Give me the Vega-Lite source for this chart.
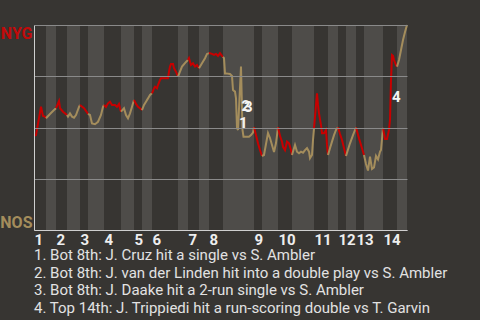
{
  "$schema": "https://vega.github.io/schema/vega-lite/v6.json",
  "width": 373,
  "height": 205,
  "autosize": {"type": "none"},
  "padding": {"left": 34, "top": 25, "right": 73, "bottom": 90},
  "background": "#373532",
  "config": {"view": {"stroke": null}, "font": "Roboto"},
  "title": {
    "text": [
      "1. Bot 8th: J. Cruz hit a single vs S. Ambler",
      "2. Bot 8th: J. van der Linden hit into a double play vs S. Ambler",
      "3. Bot 8th: J. Daake hit a 2-run single vs S. Ambler",
      "4. Top 14th: J. Trippiedi hit a run-scoring double vs T. Garvin"
    ],
    "orient": "bottom",
    "anchor": "start",
    "frame": "group",
    "align": "left",
    "baseline": "top",
    "font": "Roboto",
    "fontSize": 15,
    "fontWeight": "normal",
    "color": "#e2e2e2",
    "lineHeight": 17.7,
    "offset": 1
  },
  "datasets": {
    "bands": [
      {"x": 0, "x2": 12, "half": "top"}, {"x": 12, "x2": 22, "half": "bottom"},
      {"x": 22, "x2": 33, "half": "top"}, {"x": 33, "x2": 46, "half": "bottom"},
      {"x": 46, "x2": 54, "half": "top"}, {"x": 54, "x2": 70, "half": "bottom"},
      {"x": 70, "x2": 87, "half": "top"}, {"x": 87, "x2": 100, "half": "bottom"},
      {"x": 100, "x2": 108, "half": "top"}, {"x": 108, "x2": 118, "half": "bottom"},
      {"x": 118, "x2": 144, "half": "top"}, {"x": 144, "x2": 154, "half": "bottom"},
      {"x": 154, "x2": 165, "half": "top"}, {"x": 165, "x2": 175, "half": "bottom"},
      {"x": 175, "x2": 189, "half": "top"}, {"x": 189, "x2": 220, "half": "bottom"},
      {"x": 220, "x2": 228, "half": "top"}, {"x": 228, "x2": 244, "half": "bottom"},
      {"x": 244, "x2": 258, "half": "top"}, {"x": 258, "x2": 280, "half": "bottom"},
      {"x": 280, "x2": 294, "half": "top"}, {"x": 294, "x2": 304, "half": "bottom"},
      {"x": 304, "x2": 312, "half": "top"}, {"x": 312, "x2": 322, "half": "bottom"},
      {"x": 322, "x2": 330, "half": "top"}, {"x": 330, "x2": 349, "half": "bottom"},
      {"x": 349, "x2": 363, "half": "top"}, {"x": 363, "x2": 373, "half": "bottom"}
    ],
    "wp": [
      {"seg": "T1", "half": "top", "x": 0, "wp": 0.46},
      {"seg": "T1", "half": "top", "x": 2, "wp": 0.463},
      {"seg": "T1", "half": "top", "x": 7, "wp": 0.601},
      {"seg": "T1", "half": "top", "x": 9, "wp": 0.556},
      {"seg": "T1", "half": "top", "x": 11, "wp": 0.553},
      {"seg": "T1", "half": "top", "x": 12, "wp": 0.545},
      {"seg": "B1", "half": "bottom", "x": 12, "wp": 0.545},
      {"seg": "B1", "half": "bottom", "x": 16, "wp": 0.566},
      {"seg": "B1", "half": "bottom", "x": 20, "wp": 0.585},
      {"seg": "B1", "half": "bottom", "x": 22, "wp": 0.594},
      {"seg": "T2", "half": "top", "x": 22, "wp": 0.594},
      {"seg": "T2", "half": "top", "x": 25, "wp": 0.629},
      {"seg": "T2", "half": "top", "x": 26, "wp": 0.594},
      {"seg": "T2", "half": "top", "x": 29, "wp": 0.577},
      {"seg": "T2", "half": "top", "x": 33, "wp": 0.561},
      {"seg": "B2", "half": "bottom", "x": 33, "wp": 0.561},
      {"seg": "B2", "half": "bottom", "x": 34, "wp": 0.553},
      {"seg": "B2", "half": "bottom", "x": 36, "wp": 0.569},
      {"seg": "B2", "half": "bottom", "x": 38, "wp": 0.553},
      {"seg": "B2", "half": "bottom", "x": 40, "wp": 0.548},
      {"seg": "B2", "half": "bottom", "x": 42, "wp": 0.561},
      {"seg": "B2", "half": "bottom", "x": 45, "wp": 0.601},
      {"seg": "B2", "half": "bottom", "x": 46, "wp": 0.61},
      {"seg": "T3", "half": "top", "x": 46, "wp": 0.61},
      {"seg": "T3", "half": "top", "x": 50, "wp": 0.594},
      {"seg": "T3", "half": "top", "x": 53, "wp": 0.574},
      {"seg": "T3", "half": "top", "x": 54, "wp": 0.566},
      {"seg": "B3", "half": "bottom", "x": 54, "wp": 0.566},
      {"seg": "B3", "half": "bottom", "x": 56, "wp": 0.561},
      {"seg": "B3", "half": "bottom", "x": 58, "wp": 0.52},
      {"seg": "B3", "half": "bottom", "x": 61, "wp": 0.516},
      {"seg": "B3", "half": "bottom", "x": 64, "wp": 0.528},
      {"seg": "B3", "half": "bottom", "x": 67, "wp": 0.561},
      {"seg": "B3", "half": "bottom", "x": 69, "wp": 0.601},
      {"seg": "B3", "half": "bottom", "x": 70, "wp": 0.61},
      {"seg": "T4", "half": "top", "x": 70, "wp": 0.61},
      {"seg": "T4", "half": "top", "x": 72, "wp": 0.601},
      {"seg": "T4", "half": "top", "x": 74, "wp": 0.618},
      {"seg": "T4", "half": "top", "x": 76, "wp": 0.626},
      {"seg": "T4", "half": "top", "x": 78, "wp": 0.61},
      {"seg": "T4", "half": "top", "x": 81, "wp": 0.61},
      {"seg": "T4", "half": "top", "x": 83, "wp": 0.601},
      {"seg": "T4", "half": "top", "x": 85, "wp": 0.615},
      {"seg": "T4", "half": "top", "x": 86, "wp": 0.594},
      {"seg": "T4", "half": "top", "x": 87, "wp": 0.577},
      {"seg": "B4", "half": "bottom", "x": 87, "wp": 0.577},
      {"seg": "B4", "half": "bottom", "x": 90, "wp": 0.594},
      {"seg": "B4", "half": "bottom", "x": 92, "wp": 0.561},
      {"seg": "B4", "half": "bottom", "x": 94, "wp": 0.545},
      {"seg": "B4", "half": "bottom", "x": 96, "wp": 0.569},
      {"seg": "B4", "half": "bottom", "x": 98, "wp": 0.601},
      {"seg": "B4", "half": "bottom", "x": 100, "wp": 0.634},
      {"seg": "T5", "half": "top", "x": 100, "wp": 0.634},
      {"seg": "T5", "half": "top", "x": 102, "wp": 0.615},
      {"seg": "T5", "half": "top", "x": 104, "wp": 0.601},
      {"seg": "T5", "half": "top", "x": 106, "wp": 0.594},
      {"seg": "T5", "half": "top", "x": 108, "wp": 0.585},
      {"seg": "B5", "half": "bottom", "x": 108, "wp": 0.585},
      {"seg": "B5", "half": "bottom", "x": 110, "wp": 0.61},
      {"seg": "B5", "half": "bottom", "x": 112, "wp": 0.626},
      {"seg": "B5", "half": "bottom", "x": 114, "wp": 0.642},
      {"seg": "B5", "half": "bottom", "x": 116, "wp": 0.659},
      {"seg": "B5", "half": "bottom", "x": 118, "wp": 0.667},
      {"seg": "T6", "half": "top", "x": 118, "wp": 0.667},
      {"seg": "T6", "half": "top", "x": 120, "wp": 0.691},
      {"seg": "T6", "half": "top", "x": 121, "wp": 0.699},
      {"seg": "T6", "half": "top", "x": 123, "wp": 0.691},
      {"seg": "T6", "half": "top", "x": 124, "wp": 0.707},
      {"seg": "T6", "half": "top", "x": 126, "wp": 0.732},
      {"seg": "T6", "half": "top", "x": 127, "wp": 0.74},
      {"seg": "T6", "half": "top", "x": 131, "wp": 0.74},
      {"seg": "T6", "half": "top", "x": 134, "wp": 0.74},
      {"seg": "T6", "half": "top", "x": 135, "wp": 0.772},
      {"seg": "T6", "half": "top", "x": 136, "wp": 0.797},
      {"seg": "T6", "half": "top", "x": 137, "wp": 0.81},
      {"seg": "T6", "half": "top", "x": 139, "wp": 0.81},
      {"seg": "T6", "half": "top", "x": 140, "wp": 0.789},
      {"seg": "T6", "half": "top", "x": 142, "wp": 0.772},
      {"seg": "T6", "half": "top", "x": 144, "wp": 0.748},
      {"seg": "B6", "half": "bottom", "x": 144, "wp": 0.748},
      {"seg": "B6", "half": "bottom", "x": 148, "wp": 0.797},
      {"seg": "B6", "half": "bottom", "x": 152, "wp": 0.82},
      {"seg": "B6", "half": "bottom", "x": 154, "wp": 0.829},
      {"seg": "T7", "half": "top", "x": 154, "wp": 0.829},
      {"seg": "T7", "half": "top", "x": 155, "wp": 0.838},
      {"seg": "T7", "half": "top", "x": 157, "wp": 0.805},
      {"seg": "T7", "half": "top", "x": 159, "wp": 0.813},
      {"seg": "T7", "half": "top", "x": 161, "wp": 0.797},
      {"seg": "T7", "half": "top", "x": 163, "wp": 0.805},
      {"seg": "T7", "half": "top", "x": 165, "wp": 0.789},
      {"seg": "B7", "half": "bottom", "x": 165, "wp": 0.789},
      {"seg": "B7", "half": "bottom", "x": 168, "wp": 0.813},
      {"seg": "B7", "half": "bottom", "x": 171, "wp": 0.838},
      {"seg": "B7", "half": "bottom", "x": 173, "wp": 0.859},
      {"seg": "B7", "half": "bottom", "x": 175, "wp": 0.863},
      {"seg": "T8", "half": "top", "x": 175, "wp": 0.863},
      {"seg": "T8", "half": "top", "x": 178, "wp": 0.859},
      {"seg": "T8", "half": "top", "x": 180, "wp": 0.854},
      {"seg": "T8", "half": "top", "x": 182, "wp": 0.859},
      {"seg": "T8", "half": "top", "x": 184, "wp": 0.849},
      {"seg": "T8", "half": "top", "x": 186, "wp": 0.862},
      {"seg": "T8", "half": "top", "x": 188, "wp": 0.849},
      {"seg": "T8", "half": "top", "x": 189, "wp": 0.844},
      {"seg": "B8", "half": "bottom", "x": 189, "wp": 0.844},
      {"seg": "B8", "half": "bottom", "x": 190, "wp": 0.838},
      {"seg": "B8", "half": "bottom", "x": 191, "wp": 0.764},
      {"seg": "B8", "half": "bottom", "x": 192, "wp": 0.764},
      {"seg": "B8", "half": "bottom", "x": 196, "wp": 0.761},
      {"seg": "B8", "half": "bottom", "x": 198, "wp": 0.751},
      {"seg": "B8", "half": "bottom", "x": 199, "wp": 0.683},
      {"seg": "B8", "half": "bottom", "x": 201, "wp": 0.675},
      {"seg": "B8", "half": "bottom", "x": 202, "wp": 0.642},
      {"seg": "B8", "half": "bottom", "x": 203, "wp": 0.498},
      {"seg": "B8", "half": "bottom", "x": 204, "wp": 0.488},
      {"seg": "B8", "half": "bottom", "x": 207, "wp": 0.797},
      {"seg": "B8", "half": "bottom", "x": 208.5, "wp": 0.488},
      {"seg": "B8", "half": "bottom", "x": 209.5, "wp": 0.455},
      {"seg": "B8", "half": "bottom", "x": 215, "wp": 0.455},
      {"seg": "B8", "half": "bottom", "x": 217, "wp": 0.463},
      {"seg": "B8", "half": "bottom", "x": 219, "wp": 0.475},
      {"seg": "B8", "half": "bottom", "x": 220, "wp": 0.501},
      {"seg": "T9", "half": "top", "x": 220, "wp": 0.501},
      {"seg": "T9", "half": "top", "x": 222, "wp": 0.463},
      {"seg": "T9", "half": "top", "x": 224, "wp": 0.423},
      {"seg": "T9", "half": "top", "x": 226, "wp": 0.39},
      {"seg": "T9", "half": "top", "x": 228, "wp": 0.361},
      {"seg": "B9", "half": "bottom", "x": 228, "wp": 0.361},
      {"seg": "B9", "half": "bottom", "x": 230, "wp": 0.366},
      {"seg": "B9", "half": "bottom", "x": 234, "wp": 0.473},
      {"seg": "B9", "half": "bottom", "x": 236, "wp": 0.449},
      {"seg": "B9", "half": "bottom", "x": 240, "wp": 0.38},
      {"seg": "B9", "half": "bottom", "x": 242, "wp": 0.424},
      {"seg": "B9", "half": "bottom", "x": 244, "wp": 0.501},
      {"seg": "T10", "half": "top", "x": 244, "wp": 0.501},
      {"seg": "T10", "half": "top", "x": 246, "wp": 0.459},
      {"seg": "T10", "half": "top", "x": 248, "wp": 0.431},
      {"seg": "T10", "half": "top", "x": 249, "wp": 0.406},
      {"seg": "T10", "half": "top", "x": 251, "wp": 0.39},
      {"seg": "T10", "half": "top", "x": 253, "wp": 0.431},
      {"seg": "T10", "half": "top", "x": 255, "wp": 0.423},
      {"seg": "T10", "half": "top", "x": 257, "wp": 0.39},
      {"seg": "T10", "half": "top", "x": 258, "wp": 0.366},
      {"seg": "B10", "half": "bottom", "x": 258, "wp": 0.366},
      {"seg": "B10", "half": "bottom", "x": 261, "wp": 0.415},
      {"seg": "B10", "half": "bottom", "x": 263, "wp": 0.382},
      {"seg": "B10", "half": "bottom", "x": 265, "wp": 0.374},
      {"seg": "B10", "half": "bottom", "x": 267, "wp": 0.382},
      {"seg": "B10", "half": "bottom", "x": 269, "wp": 0.377},
      {"seg": "B10", "half": "bottom", "x": 271, "wp": 0.39},
      {"seg": "B10", "half": "bottom", "x": 273, "wp": 0.399},
      {"seg": "B10", "half": "bottom", "x": 275, "wp": 0.382},
      {"seg": "B10", "half": "bottom", "x": 276, "wp": 0.35},
      {"seg": "B10", "half": "bottom", "x": 278, "wp": 0.366},
      {"seg": "B10", "half": "bottom", "x": 279, "wp": 0.439},
      {"seg": "B10", "half": "bottom", "x": 280, "wp": 0.496},
      {"seg": "T11", "half": "top", "x": 280, "wp": 0.496},
      {"seg": "T11", "half": "top", "x": 282, "wp": 0.61},
      {"seg": "T11", "half": "top", "x": 283, "wp": 0.667},
      {"seg": "T11", "half": "top", "x": 284, "wp": 0.61},
      {"seg": "T11", "half": "top", "x": 285, "wp": 0.569},
      {"seg": "T11", "half": "top", "x": 287, "wp": 0.512},
      {"seg": "T11", "half": "top", "x": 288, "wp": 0.472},
      {"seg": "T11", "half": "top", "x": 290, "wp": 0.472},
      {"seg": "T11", "half": "top", "x": 292, "wp": 0.488},
      {"seg": "T11", "half": "top", "x": 293, "wp": 0.415},
      {"seg": "T11", "half": "top", "x": 294, "wp": 0.366},
      {"seg": "B11", "half": "bottom", "x": 294, "wp": 0.366},
      {"seg": "B11", "half": "bottom", "x": 296, "wp": 0.399},
      {"seg": "B11", "half": "bottom", "x": 298, "wp": 0.431},
      {"seg": "B11", "half": "bottom", "x": 300, "wp": 0.463},
      {"seg": "B11", "half": "bottom", "x": 302, "wp": 0.488},
      {"seg": "B11", "half": "bottom", "x": 304, "wp": 0.501},
      {"seg": "T12", "half": "top", "x": 304, "wp": 0.501},
      {"seg": "T12", "half": "top", "x": 306, "wp": 0.468},
      {"seg": "T12", "half": "top", "x": 308, "wp": 0.439},
      {"seg": "T12", "half": "top", "x": 310, "wp": 0.4},
      {"seg": "T12", "half": "top", "x": 312, "wp": 0.361},
      {"seg": "B12", "half": "bottom", "x": 312, "wp": 0.361},
      {"seg": "B12", "half": "bottom", "x": 316, "wp": 0.423},
      {"seg": "B12", "half": "bottom", "x": 319, "wp": 0.463},
      {"seg": "B12", "half": "bottom", "x": 322, "wp": 0.5},
      {"seg": "T13", "half": "top", "x": 322, "wp": 0.5},
      {"seg": "T13", "half": "top", "x": 325, "wp": 0.447},
      {"seg": "T13", "half": "top", "x": 328, "wp": 0.399},
      {"seg": "T13", "half": "top", "x": 330, "wp": 0.366},
      {"seg": "B13", "half": "bottom", "x": 330, "wp": 0.366},
      {"seg": "B13", "half": "bottom", "x": 332, "wp": 0.322},
      {"seg": "B13", "half": "bottom", "x": 334, "wp": 0.29},
      {"seg": "B13", "half": "bottom", "x": 336, "wp": 0.358},
      {"seg": "B13", "half": "bottom", "x": 338, "wp": 0.298},
      {"seg": "B13", "half": "bottom", "x": 340, "wp": 0.305},
      {"seg": "B13", "half": "bottom", "x": 342, "wp": 0.361},
      {"seg": "B13", "half": "bottom", "x": 344, "wp": 0.344},
      {"seg": "B13", "half": "bottom", "x": 346, "wp": 0.382},
      {"seg": "B13", "half": "bottom", "x": 347, "wp": 0.39},
      {"seg": "B13", "half": "bottom", "x": 349, "wp": 0.498},
      {"seg": "T14", "half": "top", "x": 349, "wp": 0.498},
      {"seg": "T14", "half": "top", "x": 351, "wp": 0.444},
      {"seg": "T14", "half": "top", "x": 353, "wp": 0.444},
      {"seg": "T14", "half": "top", "x": 355, "wp": 0.488},
      {"seg": "T14", "half": "top", "x": 356, "wp": 0.537},
      {"seg": "T14", "half": "top", "x": 357, "wp": 0.732},
      {"seg": "T14", "half": "top", "x": 358, "wp": 0.854},
      {"seg": "T14", "half": "top", "x": 359, "wp": 0.85},
      {"seg": "T14", "half": "top", "x": 360, "wp": 0.829},
      {"seg": "T14", "half": "top", "x": 362, "wp": 0.805},
      {"seg": "T14", "half": "top", "x": 363, "wp": 0.797},
      {"seg": "B14", "half": "bottom", "x": 363, "wp": 0.797},
      {"seg": "B14", "half": "bottom", "x": 365, "wp": 0.829},
      {"seg": "B14", "half": "bottom", "x": 367, "wp": 0.878},
      {"seg": "B14", "half": "bottom", "x": 369, "wp": 0.927},
      {"seg": "B14", "half": "bottom", "x": 371, "wp": 0.966},
      {"seg": "B14", "half": "bottom", "x": 373, "wp": 1.0}
    ],
    "events": [
      {"label": "1", "x": 203, "wp": 0.556},
      {"label": "2", "x": 205.5, "wp": 0.64},
      {"label": "3", "x": 208, "wp": 0.632},
      {"label": "4", "x": 356, "wp": 0.683}
    ]
  },
  "encoding": {
    "x": {
      "field": "x",
      "type": "quantitative",
      "title": null,
      "scale": {"domain": [0, 373], "nice": false, "zero": false},
      "axis": {
        "title": null,
        "values": [0, 22, 46, 70, 100, 118, 154, 175, 220, 244, 280, 304, 322, 349],
        "labelExpr": "indexof([0, 22, 46, 70, 100, 118, 154, 175, 220, 244, 280, 304, 322, 349], datum.value) + 1",
        "labelOverlap": false,
        "labelAlign": "left",
        "labelBaseline": "top",
        "labelPadding": 2,
        "labelFlush": false,
        "labelBound": false,
        "labelFont": "Roboto",
        "labelFontSize": 15,
        "labelFontWeight": "bold",
        "labelColor": "#eeeeee",
        "ticks": false,
        "grid": false,
        "domainColor": "#cfcfcf",
        "domainWidth": 1,
        "zindex": 1
      }
    }
  },
  "layer": [
    {
      "data": {"name": "bands"},
      "mark": {"type": "rect"},
      "encoding": {
        "x2": {"field": "x2"},
        "fill": {
          "field": "half",
          "type": "nominal",
          "scale": {"domain": ["top", "bottom"], "range": ["#373532", "#4e4c49"]},
          "legend": null
        }
      }
    },
    {
      "data": {"name": "wp"},
      "mark": {"type": "line", "strokeWidth": 2, "interpolate": "linear"},
      "encoding": {
        "y": {
          "field": "wp",
          "type": "quantitative",
          "title": null,
          "scale": {"domain": [0, 1], "nice": false, "zero": false},
          "axis": {
            "title": null,
            "values": [0, 0.25, 0.5, 0.75, 1],
            "labelExpr": "datum.value == 1 ? 'NYG' : (datum.value == 0 ? 'NOS' : '')",
            "labelColor": {"condition": {"test": "datum.value == 1", "value": "#c20a0a"}, "value": "#a48d5c"},
            "labelFont": "Roboto",
            "labelFontSize": 16,
            "labelFontWeight": "bold",
            "labelFlush": true,
            "labelPadding": 2,
            "ticks": false,
            "grid": true,
            "gridColor": "#8a8a8a",
            "gridWidth": 1,
            "domainColor": "#cfcfcf",
            "domainWidth": 1,
            "zindex": 1
          }
        },
        "stroke": {
          "field": "half",
          "type": "nominal",
          "scale": {"domain": ["top", "bottom"], "range": ["#c80000", "#a48d5c"]},
          "legend": null
        },
        "detail": {"field": "seg"}
      }
    },
    {
      "data": {"name": "events"},
      "mark": {"type": "text", "align": "left", "baseline": "top", "dx": 2, "font": "Roboto", "fontSize": 15, "fontWeight": "bold", "fill": "#f4f4f4"},
      "encoding": {
        "y": {
          "field": "wp",
          "type": "quantitative",
          "title": null,
          "axis": {
            "title": null,
            "values": [0, 0.25, 0.5, 0.75, 1],
            "labelExpr": "datum.value == 1 ? 'NYG' : (datum.value == 0 ? 'NOS' : '')",
            "labelColor": {"condition": {"test": "datum.value == 1", "value": "#c20a0a"}, "value": "#a48d5c"},
            "labelFont": "Roboto",
            "labelFontSize": 16,
            "labelFontWeight": "bold",
            "labelFlush": true,
            "labelPadding": 2,
            "ticks": false,
            "grid": true,
            "gridColor": "#8a8a8a",
            "gridWidth": 1,
            "domainColor": "#cfcfcf",
            "domainWidth": 1,
            "zindex": 1
          }
        },
        "text": {"field": "label"}
      }
    }
  ]
}
